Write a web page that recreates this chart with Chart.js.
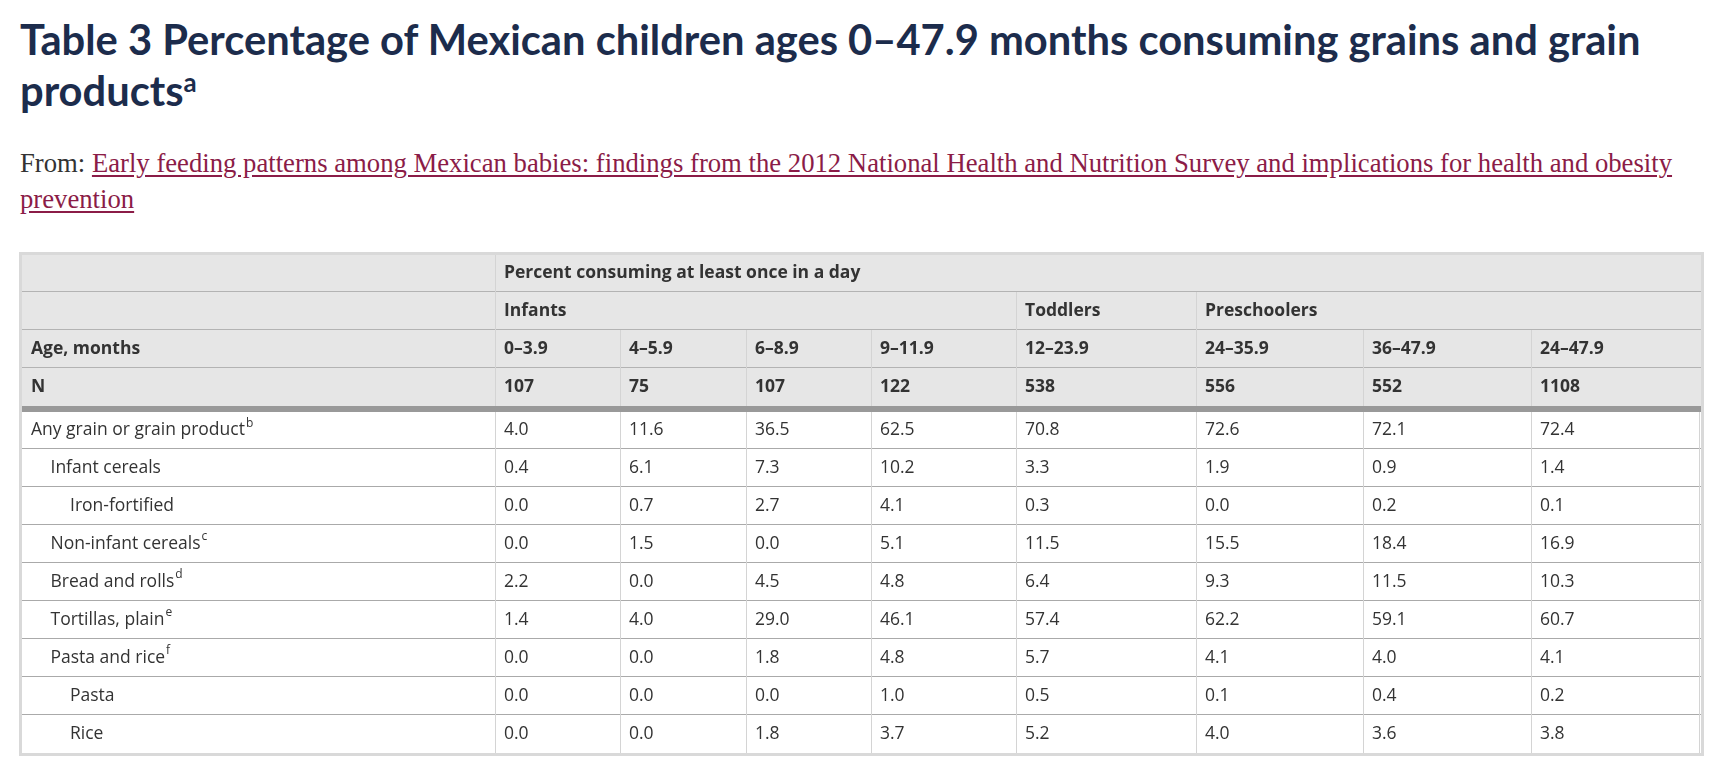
<!DOCTYPE html>
<html>
<head>
<meta charset="utf-8">
<script src="https://cdn.jsdelivr.net/npm/chart.js@4/dist/chart.umd.min.js"></script>
<style>
body { margin:0; background:#fff; width:1721px; height:767px; overflow:hidden; position:relative; }
#title { position:absolute; left:20px; top:14px; margin:0; font-family:Lato, sans-serif; font-weight:bold;
  font-size:38px; line-height:51px; color:#1c2c4c; white-space:nowrap; }
#title sup { font-size:0.62em; vertical-align:0.55em; line-height:0; }
#from { position:absolute; left:20px; top:145px; margin:0; font-family:"Liberation Serif", serif;
  font-size:22px; line-height:36px; color:#333; white-space:nowrap; }
#from a { color:#8b1c47; text-decoration:underline; text-underline-offset:3px; }
#wrap { position:absolute; left:19px; top:252px; width:1685px; height:504px; }
</style>
</head>
<body>
<h1 id="title"><span id="t1">Table 3 Percentage of Mexican children ages 0–47.9 months consuming grains and grain</span><br>products<sup>a</sup></h1>
<p id="from"><span id="f1">From: <a href="#">Early feeding patterns among Mexican babies: findings from the 2012 National Health and Nutrition Survey and implications for health and obesity</a></span><br><a href="#">prevention</a></p>
<div id="wrap"><canvas id="table" width="1685" height="504"></canvas></div>
<script>
// данные таблицы
const ageGroups = ['0–3.9', '4–5.9', '6–8.9', '9–11.9', '12–23.9', '24–35.9', '36–47.9', '24–47.9'];
const sampleN = [107, 75, 107, 122, 538, 556, 552, 1108];
const ageBands = ['Infants', 'Toddlers', 'Preschoolers'];
const bandFirstCol = [0, 4, 5];
const foodItems = ['Any grain or grain product', 'Infant cereals', 'Iron-fortified', 'Non-infant cereals',
  'Bread and rolls', 'Tortillas, plain', 'Pasta and rice', 'Pasta', 'Rice'];
const footnotes = ['b', '', '', 'c', 'd', 'e', 'f', '', ''];
const itemLevel = [0, 1, 2, 1, 1, 1, 1, 2, 2];

const anyGrain = [4.0, 11.6, 36.5, 62.5, 70.8, 72.6, 72.1, 72.4];
const infantCereals = [0.4, 6.1, 7.3, 10.2, 3.3, 1.9, 0.9, 1.4];
const ironFortified = [0.0, 0.7, 2.7, 4.1, 0.3, 0.0, 0.2, 0.1];
const nonInfantCereals = [0.0, 1.5, 0.0, 5.1, 11.5, 15.5, 18.4, 16.9];
const breadRolls = [2.2, 0.0, 4.5, 4.8, 6.4, 9.3, 11.5, 10.3];
const tortillasPlain = [1.4, 4.0, 29.0, 46.1, 57.4, 62.2, 59.1, 60.7];
const pastaRice = [0.0, 0.0, 1.8, 4.8, 5.7, 4.1, 4.0, 4.1];
const pasta = [0.0, 0.0, 0.0, 1.0, 0.5, 0.1, 0.4, 0.2];
const rice = [0.0, 0.0, 1.8, 3.7, 5.2, 4.0, 3.6, 3.8];
const rowValues = [anyGrain, infantCereals, ironFortified, nonInfantCereals, breadRolls,
  tortillasPlain, pastaRice, pasta, rice];

// разметка: ширина колонок и высота строк (в единицах шкал)
const colWidths = [473, 125, 126, 125, 145, 180, 167, 168, 170];
const rowHeights = [37, 38, 38, 38, 6, 37, 38, 38, 38, 38, 38, 38, 38, 38];
const headRows = 4, firstBodyRow = 5;
const cellPad = 9, indentStep = 19.5;

function colStart(i) {
  let s = 0;
  for (let k = 0; k < i; k++) s += colWidths[k];
  return s;
}
function rowStart(i) {
  let s = 0;
  for (let k = 0; k < i; k++) s += rowHeights[k];
  return s;
}
function rowMid(i) { return rowStart(i) + rowHeights[i] / 2; }
const totalW = colStart(colWidths.length);
const totalH = rowStart(rowHeights.length);

// подгоняем ширину заголовка под оригинал
function fitWidth(el, target) {
  const fs = parseFloat(getComputedStyle(el).fontSize);
  const w = el.getBoundingClientRect().width;
  el.style.fontSize = (fs * target / w) + 'px';
}
fitWidth(document.getElementById('t1'), 1621);
document.querySelector('#title').style.fontSize = document.getElementById('t1').style.fontSize;
fitWidth(document.getElementById('f1'), 1653);
document.querySelector('#from').style.fontSize = document.getElementById('f1').style.fontSize;
document.getElementById('f1').style.fontSize = '';
document.getElementById('t1').style.fontSize = '';

const headFont = 'bold 17.5px "Open Sans"';
const bodyFont = '17.5px "Open Sans"';
const supFont = '12px "Open Sans"';
const textColor = '#333';

let datasets = foodItems.map((name, r) => ({
  label: name,
  data: rowValues[r].map((v, c) => ({ x: colStart(c + 1) + cellPad, y: rowMid(firstBodyRow + r), v: v })),
  pointRadius: 0,
  showLine: false
}));

const tablePlugin = {
  id: 'tablePlugin',
  beforeDraw(chart) {
    const ctx = chart.ctx, a = chart.chartArea;
    const xs = chart.scales.x, ys = chart.scales.y;
    const X = v => xs.getPixelForValue(v), Y = v => ys.getPixelForValue(v);
    ctx.save();
    // рамка
    ctx.fillStyle = '#d9d9d9';
    ctx.fillRect(a.left - 3, a.top - 3, a.right - a.left + 6, a.bottom - a.top + 6);
    ctx.fillStyle = '#fff';
    ctx.fillRect(a.left, a.top, a.right - a.left, a.bottom - a.top);
    // шапка
    ctx.fillStyle = '#e6e6e6';
    ctx.fillRect(a.left, Y(0), a.right - a.left, Y(rowStart(headRows)) - Y(0));
    ctx.fillStyle = '#999';
    ctx.fillRect(a.left, Y(rowStart(headRows)), a.right - a.left, Y(rowStart(firstBodyRow)) - Y(rowStart(headRows)));
    // горизонтальные линии
    ctx.fillStyle = '#b3b3b3';
    for (let r = 1; r < headRows; r++) {
      ctx.fillRect(a.left, Math.round(Y(rowStart(r))) - 1, a.right - a.left, 1);
    }
    ctx.fillStyle = '#aaa';
    for (let r = firstBodyRow + 1; r < rowHeights.length; r++) {
      ctx.fillRect(a.left, Math.round(Y(rowStart(r))) - 1, a.right - a.left, 1);
    }
    // вертикальные линии
    ctx.fillStyle = '#d4d4d4';
    for (let c = 1; c < colWidths.length; c++) {
      let top = 0;
      if (c > 1) top = bandFirstCol.includes(c - 1) ? rowStart(1) : rowStart(2);
      const x = Math.round(X(colStart(c)));
      ctx.fillRect(x, Y(top), 1, Y(rowStart(headRows)) - Y(top));
      ctx.fillRect(x, Y(rowStart(firstBodyRow)), 1, a.bottom - Y(rowStart(firstBodyRow)));
    }
    ctx.fillRect(Math.round(a.right) - 2, Y(rowStart(firstBodyRow)), 1, a.bottom - Y(rowStart(firstBodyRow)));
    ctx.restore();
  },
  afterDatasetsDraw(chart) {
    const ctx = chart.ctx, a = chart.chartArea;
    const xs = chart.scales.x, ys = chart.scales.y;
    const X = v => xs.getPixelForValue(v), Y = v => ys.getPixelForValue(v);
    ctx.save();
    ctx.textBaseline = 'middle';
    ctx.textAlign = 'left';
    ctx.fillStyle = textColor;
    // шапка
    ctx.font = headFont;
    ctx.fillText('Percent consuming at least once in a day', X(colStart(1) + cellPad), Y(rowMid(0)));
    ageBands.forEach((b, i) => ctx.fillText(b, X(colStart(bandFirstCol[i] + 1) + cellPad), Y(rowMid(1))));
    ctx.fillText('Age, months', X(cellPad), Y(rowMid(2)));
    ctx.fillText('N', X(cellPad), Y(rowMid(3)));
    ageGroups.forEach((g, c) => ctx.fillText(g, X(colStart(c + 1) + cellPad), Y(rowMid(2))));
    sampleN.forEach((n, c) => ctx.fillText(String(n), X(colStart(c + 1) + cellPad), Y(rowMid(3))));
    // строки продуктов
    chart.data.datasets.forEach((ds, r) => {
      const meta = chart.getDatasetMeta(r);
      const y = meta.data[0].y;
      const x0 = X(cellPad + itemLevel[r] * indentStep);
      ctx.font = bodyFont;
      ctx.fillText(ds.label, x0, y);
      if (footnotes[r]) {
        const w = ctx.measureText(ds.label).width;
        ctx.font = supFont;
        ctx.fillText(footnotes[r], x0 + w + 1, y - 7);
        ctx.font = bodyFont;
      }
      meta.data.forEach((pt, c) => {
        ctx.fillText(ds.data[c].v.toFixed(1), pt.x, pt.y);
      });
    });
    ctx.restore();
  }
};

new Chart(document.getElementById('table'), {
  type: 'scatter',
  data: { datasets: datasets },
  options: {
    responsive: false,
    animation: false,
    devicePixelRatio: 1,
    layout: { padding: 3 },
    plugins: { legend: { display: false }, tooltip: { enabled: false } },
    scales: {
      x: { type: 'linear', min: 0, max: totalW, display: false },
      y: { type: 'linear', min: 0, max: totalH, reverse: true, display: false }
    }
  },
  plugins: [tablePlugin]
});
</script>
</body>
</html>
